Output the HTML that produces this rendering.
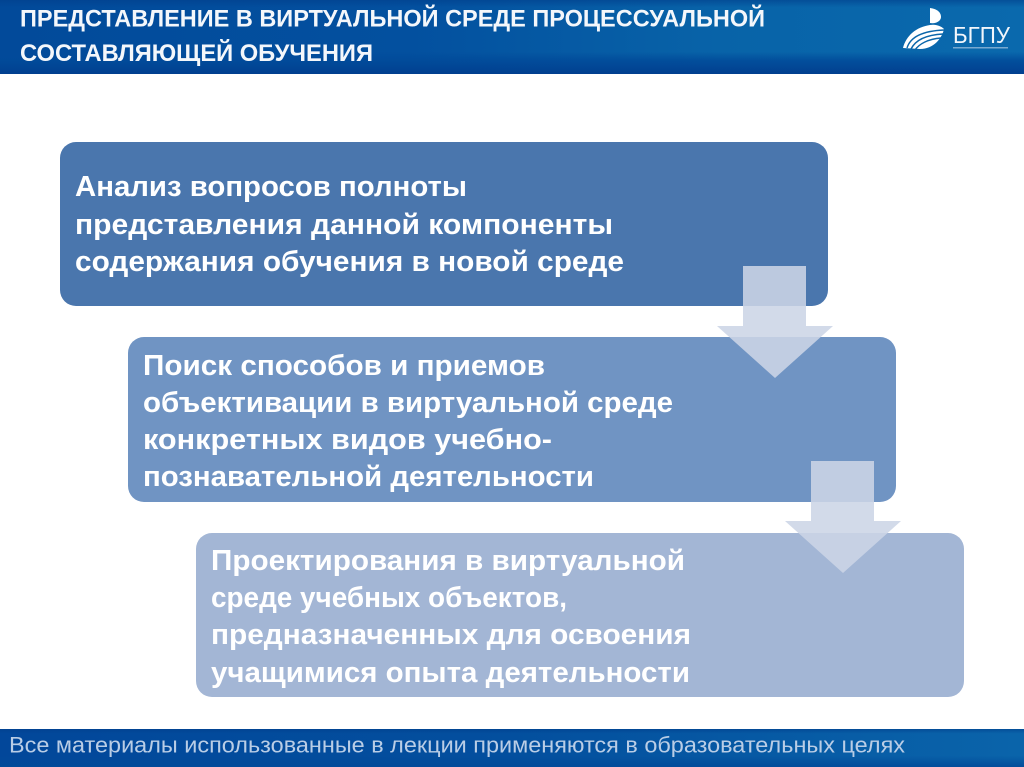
<!DOCTYPE html>
<html lang="ru">
<head>
<meta charset="utf-8">
<title>Представление в виртуальной среде</title>
<style>
html,body{margin:0;padding:0;background:#fff;}
svg{display:block;}
text{font-family:"Liberation Sans","DejaVu Sans",sans-serif;}
.t{font-size:24.5px;font-weight:700;fill:#f4f7fb;}
.b{font-size:28.5px;font-weight:700;fill:#fff;}
</style>
</head>
<body>
<svg xmlns="http://www.w3.org/2000/svg" width="1024" height="767" viewBox="0 0 1024 767">
<defs>
<linearGradient id="h" x1="0" y1="0" x2="1" y2="0">
<stop offset="0" stop-color="#024a9a"/>
<stop offset="0.4" stop-color="#03509f"/>
<stop offset="0.7" stop-color="#0863a8"/>
<stop offset="1" stop-color="#0a69ad"/>
</linearGradient>
<linearGradient id="hs" x1="0" y1="0" x2="0" y2="1">
<stop offset="0" stop-color="#013f8c" stop-opacity=".6"/>
<stop offset="0.1" stop-color="#013f8c" stop-opacity="0"/>
<stop offset="0.7" stop-color="#014a99" stop-opacity="0"/>
<stop offset="0.82" stop-color="#014a99" stop-opacity=".85"/>
<stop offset="1" stop-color="#013f8f" stop-opacity="1"/>
</linearGradient>
<linearGradient id="f" x1="0" y1="0" x2="1" y2="0">
<stop offset="0" stop-color="#02479a"/>
<stop offset="0.5" stop-color="#034f9e"/>
<stop offset="1" stop-color="#0a64aa"/>
</linearGradient>
<linearGradient id="fs" x1="0" y1="0" x2="0" y2="1">
<stop offset="0" stop-color="#013f8c" stop-opacity=".6"/>
<stop offset="0.12" stop-color="#013f8c" stop-opacity="0"/>
<stop offset="0.7" stop-color="#014a99" stop-opacity="0"/>
<stop offset="1" stop-color="#014a99" stop-opacity=".9"/>
</linearGradient>
</defs>
<rect width="1024" height="767" fill="#fff"/>

<rect x="0" y="0" width="1024" height="74" fill="url(#h)"/>
<rect x="0" y="0" width="1024" height="74" fill="url(#hs)"/>
<text class="t" x="20" y="26.5" textLength="745" lengthAdjust="spacingAndGlyphs">ПРЕДСТАВЛЕНИЕ В ВИРТУАЛЬНОЙ СРЕДЕ ПРОЦЕССУАЛЬНОЙ</text>
<text class="t" x="20" y="61" textLength="353" lengthAdjust="spacingAndGlyphs">СОСТАВЛЯЮЩЕЙ ОБУЧЕНИЯ</text>

<!-- logo -->
<path d="M930 8 C938 9 941 13 941 17 C941 21 936 24 930 23 Z" fill="#fff"/>
<path d="M903 48 C906 36 916 27 930 25 C936 24 941 26 944 29 C942 38 934 49 920 49 Z" fill="#fff"/>
<g fill="none" stroke="#0a66aa" stroke-width="1.4">
<path d="M907 48 C910 38 920 31 944 30"/>
<path d="M911 49 C915 41 924 35 943 34"/>
<path d="M915 50 C919 44 928 39 941 38"/>
</g>
<text x="953" y="43" font-size="23.5" fill="#f2f6fb" textLength="57" lengthAdjust="spacingAndGlyphs">БГПУ</text>
<rect x="953" y="47" width="55" height="1.5" fill="#c3d6e8" opacity=".6"/>

<!-- boxes -->
<rect x="60" y="142" width="768" height="164" rx="16" fill="#4a76ad"/>
<rect x="128" y="337" width="768" height="165" rx="16" fill="#7094c3"/>
<rect x="196" y="533" width="768" height="164" rx="16" fill="#a3b6d5"/>

<!-- arrows -->
<polygon points="743,266 806,266 806,326 833,326 775,378 717,326 743,326" fill="#ccd5e6" fill-opacity=".88"/>
<polygon points="811,461 874,461 874,521 901,521 843,573 785,521 811,521" fill="#ccd5e6" fill-opacity=".88"/>

<!-- box text -->
<text class="b" x="75" y="196" textLength="392" lengthAdjust="spacingAndGlyphs">Анализ вопросов полноты</text>
<text class="b" x="75" y="234" textLength="538" lengthAdjust="spacingAndGlyphs">представления данной компоненты</text>
<text class="b" x="75" y="271" textLength="549" lengthAdjust="spacingAndGlyphs">содержания обучения в новой среде</text>

<text class="b" x="143" y="375" textLength="402" lengthAdjust="spacingAndGlyphs">Поиск способов и приемов</text>
<text class="b" x="143" y="412" textLength="530" lengthAdjust="spacingAndGlyphs">объективации в виртуальной среде</text>
<text class="b" x="143" y="449" textLength="409" lengthAdjust="spacingAndGlyphs">конкретных видов учебно-</text>
<text class="b" x="143" y="486" textLength="451" lengthAdjust="spacingAndGlyphs">познавательной деятельности</text>

<text class="b" x="211" y="570" textLength="474" lengthAdjust="spacingAndGlyphs">Проектирования в виртуальной</text>
<text class="b" x="211" y="607" textLength="356" lengthAdjust="spacingAndGlyphs">среде учебных объектов,</text>
<text class="b" x="211" y="644" textLength="480" lengthAdjust="spacingAndGlyphs">предназначенных для освоения</text>
<text class="b" x="211" y="682" textLength="479" lengthAdjust="spacingAndGlyphs">учащимися опыта деятельности</text>

<!-- footer -->
<rect x="0" y="729" width="1024" height="38" fill="url(#f)"/>
<rect x="0" y="729" width="1024" height="38" fill="url(#fs)"/>
<text x="9" y="752.5" font-size="22" fill="#b9cde6" textLength="896" lengthAdjust="spacingAndGlyphs">Все материалы использованные в лекции применяются в образовательных целях</text>
</svg>
</body>
</html>
